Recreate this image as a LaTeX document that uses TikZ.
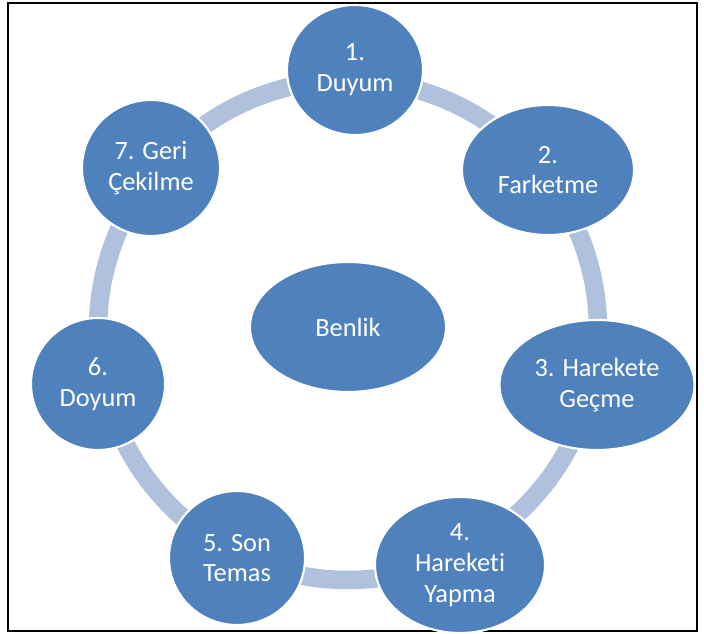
\documentclass[tikz,border=0pt]{standalone}
\usepackage{fontspec}
\setmainfont{Carlito}[Ligatures={NoCommon}]
\usepackage{tikz}
\usetikzlibrary{shapes.geometric, positioning}
\definecolor{stageblue}{HTML}{4F81BD}
\definecolor{ringblue}{HTML}{B0C1DD}

\begin{document}
\begin{tikzpicture}
    \tikzstyle{stage}=[shape=ellipse,fill=stageblue,draw=white,line width=1.2pt,inner sep=0pt,text=white,align=center,font=\fontsize{15}{17.5}\selectfont]
    \tikzstyle{ring}=[draw=ringblue,line width=0.37cm]

    \useasboundingbox (0,0) rectangle (14.08,12.68);
    \draw[line width=0.04cm] (0.16,0.06) rectangle (13.94,12.62);

    \coordinate (C) at (6.96,6.08);
    \path[ring] (C) circle (5cm);

    \node[stage, minimum width=2.72cm, minimum height=2.60cm] (S1) at (7.10,11.28) {1.\\Duyum};
    \node[stage, minimum width=3.44cm, minimum height=2.60cm] (S2) at (10.96,9.28) {2.\\Farketme};
    \node[stage, minimum width=3.90cm, minimum height=2.60cm] (S3) at (11.94,4.98) {3. Harekete\\Geçme};
    \node[stage, minimum width=3.40cm, minimum height=2.72cm] (S4) at (9.20,1.38) {4.\\Hareketi\\Yapma};
    \node[stage, minimum width=2.72cm, minimum height=2.68cm] (S5) at (4.74,1.52) {5. Son\\Temas};
    \node[stage, minimum width=2.68cm, minimum height=2.64cm] (S6) at (1.96,5.00) {6.\\Doyum};
    \node[stage, minimum width=2.76cm, minimum height=2.72cm] (S7) at (3.02,9.32) {7. Geri\\Çekilme};
    \node[stage, minimum width=3.92cm, minimum height=2.60cm] (Self) at (6.96,6.14) {Benlik};
\end{tikzpicture}
\end{document}
